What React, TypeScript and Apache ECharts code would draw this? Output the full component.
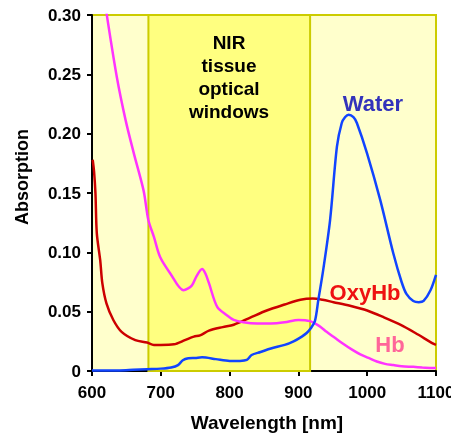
import React, { useEffect, useRef } from "react";
import * as echarts from "echarts";

const hbX = [621, 636, 649, 661, 675, 682, 690, 699, 714, 733, 745, 752, 760, 765, 770, 782, 796, 806, 820, 840, 860, 880, 900, 917, 930, 941, 953, 965, 978, 990, 1002, 1014, 1026, 1038, 1050, 1067, 1080, 1096, 1100];
const hbY = [0.302, 0.248, 0.211, 0.183, 0.152, 0.127, 0.113, 0.096, 0.082, 0.068, 0.072, 0.080, 0.086, 0.082, 0.074, 0.054, 0.047, 0.043, 0.041, 0.040, 0.040, 0.041, 0.043, 0.042, 0.038, 0.033, 0.028, 0.023, 0.018, 0.014, 0.011, 0.008, 0.006, 0.005, 0.004, 0.0035, 0.003, 0.0025, 0.0025];

const waterX = [600, 620, 640, 660, 680, 700, 715, 725, 732, 740, 750, 760, 780, 800, 815, 825, 832, 845, 860, 880, 893, 905, 912, 918, 924, 929, 936, 946, 956, 963, 968, 973, 980, 985, 1000, 1019, 1038, 1050, 1057, 1067, 1075, 1082, 1092, 1100];
const waterY = [0.0005, 0.0005, 0.0005, 0.001, 0.0015, 0.002, 0.003, 0.005, 0.009, 0.0107, 0.011, 0.0115, 0.010, 0.0085, 0.0085, 0.0093, 0.0135, 0.016, 0.019, 0.022, 0.025, 0.029, 0.032, 0.036, 0.042, 0.060, 0.085, 0.127, 0.189, 0.209, 0.214, 0.216, 0.214, 0.209, 0.183, 0.144, 0.099, 0.075, 0.065, 0.059, 0.058, 0.059, 0.068, 0.081];

const oxyX = [601, 603, 605, 607, 612, 615, 621, 631, 643, 663, 680, 690, 700, 719, 735, 748, 757, 770, 790, 806, 830, 854, 880, 903, 921, 935, 951, 975, 1000, 1025, 1048, 1070, 1096, 1100];
const oxyY = [0.178, 0.168, 0.150, 0.116, 0.093, 0.074, 0.057, 0.043, 0.033, 0.026, 0.024, 0.022, 0.022, 0.0225, 0.026, 0.029, 0.030, 0.034, 0.037, 0.039, 0.045, 0.051, 0.056, 0.060, 0.061, 0.060, 0.058, 0.055, 0.051, 0.045, 0.039, 0.032, 0.023, 0.022];

const windowRange = [682, 917];
const windowText = ["NIR", "tissue", "optical", "windows"];

const FONT = "'Liberation Sans', Arial, sans-serif";

function pairs(xs: number[], ys: number[]) {
  return xs.map((x, i) => [x, ys[i]]);
}

export default function App() {
  const ref = useRef<HTMLDivElement>(null);
  useEffect(() => {
    if (!ref.current) return;
    const chart = echarts.init(ref.current, null, { renderer: "svg" });
    chart.setOption({
      animation: false,
      textStyle: { fontFamily: FONT },
      grid: {
        left: 92,
        right: 15,
        top: 15,
        bottom: 68,
        show: true,
        outerBoundsMode: "none",
        containLabel: false,
        backgroundColor: "#FFFFCC",
        borderColor: "#CCCC00",
        borderWidth: 2,
      },
      xAxis: {
        type: "value",
        min: 600,
        max: 1100,
        interval: 100,
        splitLine: { show: false },
        axisLine: { show: true, onZero: false, lineStyle: { color: "#000", width: 2 } },
        axisTick: { show: true, length: 5, lineStyle: { color: "#000", width: 2 } },
        axisLabel: {
          color: "#000",
          fontSize: 17,
          fontWeight: "bold",
          margin: 13,
          fontFamily: FONT,
          formatter: (v: number) => String(v),
        },
      },
      yAxis: {
        type: "value",
        min: 0,
        max: 0.3,
        interval: 0.05,
        splitLine: { show: false },
        axisLine: { show: true, lineStyle: { color: "#000", width: 2 } },
        axisTick: { show: true, length: 5, lineStyle: { color: "#000", width: 2 } },
        axisLabel: {
          color: "#000",
          fontSize: 17,
          fontWeight: "bold",
          margin: 11,
          fontFamily: FONT,
          formatter: (v: number) => (v === 0 ? "0" : v.toFixed(2)),
        },
      },
      series: [
        {
          type: "line",
          name: "band",
          data: [],
          silent: true,
          markArea: {
            silent: true,
            itemStyle: { color: "#FFFF80", borderColor: "#CCCC00", borderWidth: 2 },
            data: [[{ xAxis: windowRange[0] }, { xAxis: windowRange[1] }]],
          },
        },
        {
          type: "line",
          name: "OxyHb",
          data: pairs(oxyX, oxyY),
          showSymbol: false,
          smooth: 0.3,
          lineStyle: { color: "#CC0000", width: 2.5 },
        },
        {
          type: "line",
          name: "Hb",
          data: pairs(hbX, hbY),
          showSymbol: false,
          smooth: 0.3,
          lineStyle: { color: "#FF33FF", width: 2.5 },
        },
        {
          type: "line",
          name: "Water",
          data: pairs(waterX, waterY),
          showSymbol: false,
          smooth: 0.3,
          lineStyle: { color: "#1144FF", width: 2.5 },
        },
      ],
      graphic: [
        ...windowText.map((t, i) => ({
          type: "text",
          x: 229,
          y: 42 + i * 23.3,
          style: {
            text: t,
            font: `bold 19px ${FONT}`,
            fill: "#000",
            align: "center",
            verticalAlign: "middle",
          },
          z: 100,
        })),
        {
          type: "text",
          x: 373,
          y: 103,
          style: { text: "Water", font: `bold 22px ${FONT}`, fill: "#3333BB", align: "center", verticalAlign: "middle" },
          z: 100,
        },
        {
          type: "text",
          x: 365,
          y: 292,
          style: { text: "OxyHb", font: `bold 22px ${FONT}`, fill: "#EE1111", align: "center", verticalAlign: "middle" },
          z: 100,
        },
        {
          type: "text",
          x: 390,
          y: 344,
          style: { text: "Hb", font: `bold 22px ${FONT}`, fill: "#FF6699", align: "center", verticalAlign: "middle" },
          z: 100,
        },
        {
          type: "text",
          x: 267,
          y: 422,
          style: { text: "Wavelength [nm]", font: `bold 19px ${FONT}`, fill: "#000", align: "center", verticalAlign: "middle" },
          z: 100,
        },
        {
          type: "text",
          x: 22,
          y: 177,
          rotation: Math.PI / 2,
          style: { text: "Absorption", font: `bold 18px ${FONT}`, fill: "#000", align: "center", verticalAlign: "middle" },
          z: 100,
        },
      ],
    });
    return () => chart.dispose();
  }, []);
  return <div ref={ref} style={{ position: "fixed", left: 0, top: 0, width: 451, height: 439 }} />;
}
